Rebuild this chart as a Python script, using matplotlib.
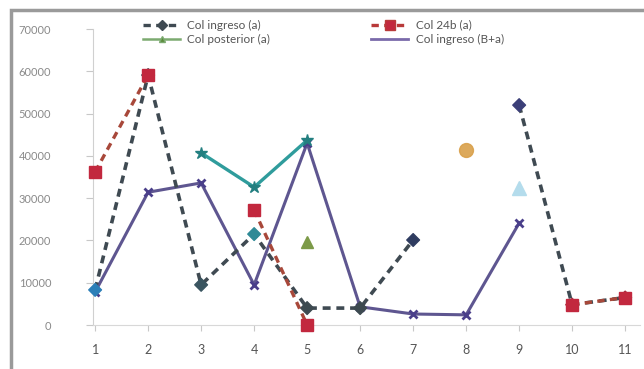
import matplotlib
matplotlib.use('Agg')
import matplotlib.pyplot as plt
import matplotlib.patches as patches
from matplotlib.lines import Line2D
import numpy as np

nan = np.nan

# Categories 1..11
cats = np.arange(1, 12)

# Series values
ingreso_a = [8300, 59100, 9500, 21500, 4000, 4000, 20100, nan, 52000, 4800, 6500]
col_24b = [36200, 59100, nan, 27200, 0, nan, nan, nan, nan, 4800, 6500]
posterior = [nan, nan, 40700, 32600, 43700, nan, nan, nan, nan, nan, nan]
ingreso_ba = [7800, 31400, 33600, 9500, 43000, 4300, 2600, 2400, 24100, nan, nan]

# Loose single points
tri_green = [nan, nan, nan, nan, 19600, nan, nan, nan, nan, nan, nan]
tri_light = [nan, nan, nan, nan, nan, nan, nan, nan, 32400, nan, nan]
dot_orange = [nan, nan, nan, nan, nan, nan, nan, 41400, nan, nan, nan]

ytick_vals = [0, 10000, 20000, 30000, 40000, 50000, 60000, 70000]

plt.rcParams['font.family'] = ['Lato', 'DejaVu Sans']

fig = plt.figure(figsize=(6.44, 3.69), dpi=100)
ax = fig.add_axes([93 / 644, 1 - 325 / 369, 547 / 644, 296 / 369])

# Marker colours for the first series vary a bit point to point
ing_colors = ['#2c7fb8', '#3d4650', '#3a5560', '#2e8a96', '#3d4a50',
              '#3d4a50', '#2f3c60', '#3d4a50', '#3b3f78', '#a03040', '#a03040']

ax.plot(cats, ingreso_a, color='#3f4a52', lw=2.6, ls=(0, (2.2, 1.6)), zorder=3)
ax.scatter(cats, ingreso_a, c=ing_colors, marker='D', s=42, zorder=4, clip_on=False)

ax.plot(cats, col_24b, color='#a8483a', lw=2.4, ls=(0, (2.2, 1.6)), zorder=3)
ax.plot(cats, col_24b, ls='none', marker='s', ms=9, color='#c2283e', zorder=5, clip_on=False)

ax.plot(cats, posterior, color='#2f9c9c', lw=2.4, marker='*', ms=9,
        mfc='#237f80', mec='#237f80', zorder=3)

ax.plot(cats, ingreso_ba, color='#5e5690', lw=2.2, marker='x', ms=6, mew=2,
        mec='#4a3f8a', zorder=2)

ax.plot(cats, tri_green, ls='none', marker='^', ms=9, color='#7c9a48', zorder=4)
ax.plot(cats, tri_light, ls='none', marker='^', ms=10, color='#b4dcec', zorder=4)
ax.plot(cats, dot_orange, ls='none', marker='o', ms=10, color='#d9a04a', alpha=0.9, zorder=4)

ax.set_xlim(0.96, 11.28)
ax.set_ylim(0, 70000)
ax.set_xticks(cats)
ax.set_xticklabels([str(c) for c in cats], fontsize=9, color='#555555')
ax.set_yticks(ytick_vals)
ax.set_yticklabels([str(v) for v in ytick_vals], fontsize=8, color='#8a8a8a')
ax.tick_params(axis='x', length=4, color='#c8c8c8', pad=10)
ax.tick_params(axis='y', length=5, color='#c8c8c8', pad=25)

for s in ['top', 'right']:
    ax.spines[s].set_visible(False)
ax.spines['left'].set_color('#d0d0d0')
ax.spines['bottom'].set_color('#d8d8d8')

# Legend
handles = [
    Line2D([], [], color='#3f4a52', lw=2.4, ls=(0, (2.2, 1.6)), marker='D', ms=5),
    Line2D([], [], color='#7caa70', lw=1.8, marker='^', ms=5, mfc='#5a8a3a'),
    Line2D([], [], color='#b83a3a', lw=2.4, ls=(0, (2.2, 1.6)), marker='s', ms=7, mfc='#c2283e'),
    Line2D([], [], color='#7a6aaa', lw=2.0),
]
labels = ['Col ingreso (a)', 'Col posterior (a)', 'Col 24b (a)', 'Col ingreso (B+a)']
fig.legend(handles, labels, loc='upper left', bbox_to_anchor=(132 / 644, 1 - 9 / 369),
           ncol=2, frameon=False, fontsize=8.5, handlelength=3.2, handletextpad=0.6,
           columnspacing=8.5, labelspacing=0.25, labelcolor='#555555')

# Outer window border
fig.add_artist(patches.Rectangle((11 / 644, -0.05), 1.0, 1 - 10 / 369 + 0.05,
                                 transform=fig.transFigure, fill=False,
                                 edgecolor='#9a9a9a', lw=2.5))

fig.savefig('out.png', dpi=100)
